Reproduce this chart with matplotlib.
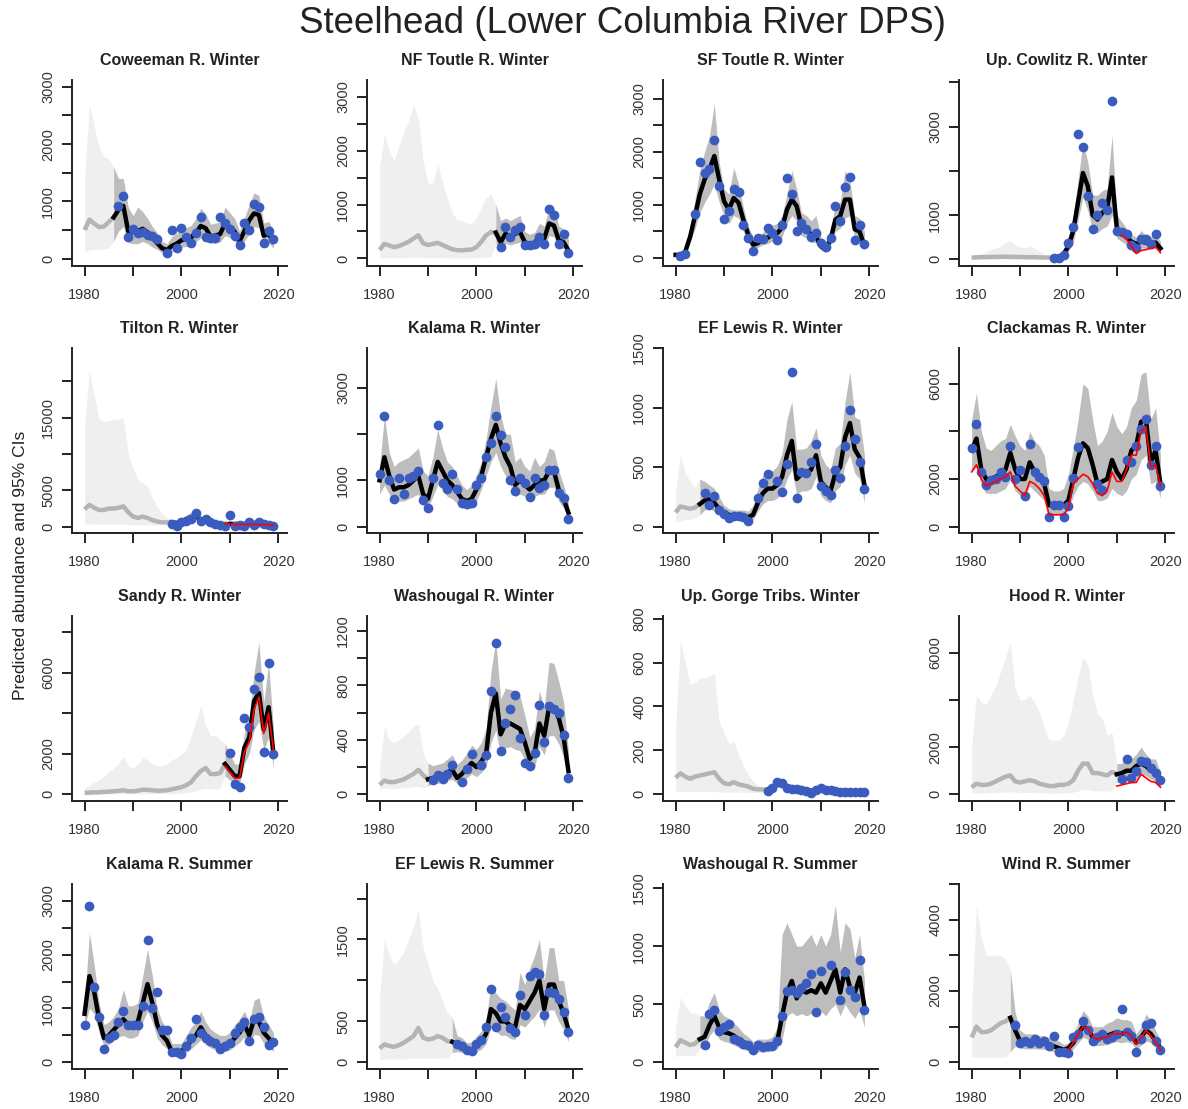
import numpy as np
import matplotlib
matplotlib.use("Agg")
import matplotlib.pyplot as plt

plt.rcParams['font.family'] = ['Liberation Sans', 'DejaVu Sans']

N = None
years = list(range(1980, 2020))

titles = ["Coweeman R. Winter", "NF Toutle R. Winter", "SF Toutle R. Winter", "Up. Cowlitz R. Winter",
          "Tilton R. Winter", "Kalama R. Winter", "EF Lewis R. Winter", "Clackamas R. Winter",
          "Sandy R. Winter", "Washougal R. Winter", "Up. Gorge Tribs. Winter", "Hood R. Winter",
          "Kalama R. Summer", "EF Lewis R. Summer", "Washougal R. Summer", "Wind R. Summer"]

# first year of the fitted (data) period for each population
start_year = [1986, 2004, 1980, 1997, 1998, 1980, 1985, 1980,
              2009, 1990, 1999, 2010, 1980, 1995, 1985, 1988]

# --- Coweeman R. Winter ---
cow_est = [500, 680, 610, 550, 560, 640, 720, 850, 920, 480,
           460, 480, 520, 460, 360, 270, 180, 150, 220, 260,
           320, 340, 370, 450, 570, 530, 390, 400, 430, 610,
           550, 470, 300, 480, 670, 790, 760, 400, 430, 300]
cow_lo = [120, 150, 160, 160, 170, 180, 300, 480, 560, 280,
          260, 260, 300, 260, 200, 160, 100, 80, 120, 150,
          200, 210, 240, 290, 360, 350, 270, 270, 290, 400,
          370, 310, 200, 300, 430, 560, 540, 260, 270, 180]
cow_hi = [1400, 2700, 2300, 1950, 1780, 1750, 1600, 1400, 1400, 900,
          750, 900, 820, 700, 560, 450, 300, 260, 380, 440,
          520, 540, 580, 700, 880, 780, 600, 620, 640, 900,
          800, 700, 480, 700, 950, 1150, 1100, 620, 650, 500]
cow_obs = [N, N, N, N, N, N, N, 920, 1100, 380,
           520, 450, 470, 420, 400, 340, N, 100, 500, 180,
           540, 380, 280, 450, 720, 370, 360, 360, 720, 620,
           520, 400, 230, 620, 500, 950, 900, 280, 480, 340]

# --- NF Toutle R. Winter ---
nft_est = [160, 270, 240, 210, 230, 270, 310, 370, 430, 280,
           250, 270, 290, 250, 210, 170, 155, 150, 160, 165,
           210, 310, 430, 490, 480, 300, 460, 400, 460, 490,
           300, 270, 290, 400, 370, 650, 610, 340, 300, 150]
nft_lo = [10, 15, 15, 15, 15, 15, 20, 20, 25, 15,
          15, 15, 15, 15, 12, 10, 10, 10, 10, 10,
          15, 20, 30, 40, 280, 170, 280, 250, 280, 300,
          180, 160, 170, 250, 220, 420, 400, 200, 180, 60]
nft_hi = [1700, 2300, 2000, 1800, 2100, 2350, 2550, 2850, 2600, 1800,
          1400, 1400, 1750, 1400, 1100, 850, 720, 700, 660, 650,
          760, 950, 1130, 1200, 1000, 700, 750, 700, 750, 800,
          500, 450, 480, 650, 600, 950, 950, 600, 550, 350]
nft_obs = [N] * 25 + [215, 585, 400, 520, 585,
                      246, 246, 260, 400, 277, 920, 800, 277, 460, 105]

# --- SF Toutle R. Winter ---
sft_est = [60, 60, 120, 400, 790, 1200, 1480, 1670, 1920, 1480,
           1070, 910, 1130, 1040, 720, 440, 250, 280, 350, 380,
           440, 470, 570, 910, 1100, 980, 600, 540, 440, 410,
           220, 160, 350, 720, 790, 1100, 1100, 540, 500, 220]
sft_lo = [40, 40, 80, 300, 550, 850, 1050, 1200, 1400, 1050,
          800, 650, 800, 750, 500, 300, 170, 200, 250, 270,
          320, 330, 400, 650, 800, 700, 420, 380, 300, 290,
          150, 100, 240, 500, 560, 750, 800, 380, 350, 150]
sft_hi = [80, 100, 200, 600, 1100, 1650, 2000, 2300, 2900, 1800,
          1300, 1200, 1700, 1400, 950, 600, 400, 420, 480, 550,
          620, 650, 800, 1200, 1650, 1300, 850, 800, 700, 800,
          400, 300, 550, 1000, 1050, 1650, 1450, 800, 750, 500]
sft_obs = [N, 30, 80, N, 820, 1800, 1600, 1670, 2220, 1350,
           740, 890, 1290, 1240, 630, 380, 130, 380, 360, 560,
           470, 330, 630, 1510, 1200, 500, 660, 540, 390, 480,
           280, 210, 380, 980, 690, 1340, 1520, 330, 620, 270]

# --- Up. Cowlitz R. Winter ---
ucw_est = [40, 45, 50, 50, 55, 55, 60, 60, 60, 55,
           55, 50, 50, 50, 45, 40, 40, 30, 50, 120,
           300, 650, 1300, 1950, 1650, 1000, 900, 1050, 1150, 1850,
           700, 600, 500, 400, 350, 400, 380, 350, 380, 250]
ucw_lo = [5, 5, 5, 5, 5, 5, 5, 5, 5, 5,
          5, 5, 5, 5, 5, 5, 5, 10, 25, 60,
          180, 380, 900, 1400, 1100, 650, 600, 700, 750, 1000,
          480, 400, 320, 260, 220, 260, 250, 230, 250, 150]
ucw_hi = [80, 100, 130, 170, 220, 260, 300, 380, 420, 330,
          280, 260, 300, 250, 180, 120, 80, 60, 80, 200,
          450, 1000, 1800, 2650, 2200, 1450, 1450, 1550, 1600, 2800,
          1000, 850, 700, 560, 500, 650, 550, 520, 560, 400]
ucw_obs = [N] * 17 + [20, 40, 100,
                      380, 730, 2830, 2540, 1420, 690, 1010, 1270, 1115, 3580,
                      630, 620, 580, 330, 250, 460, 460, 350, 580, N]
ucw_red = [N] * 31 + [550, 450, 300, 130, 200, 220, 250, 280, 150]

# --- Tilton R. Winter ---
til_est = [2400, 3000, 2600, 2300, 2300, 2500, 2500, 2600, 2800, 2000,
           1400, 1200, 1400, 1200, 900, 700, 600, 600, 600, 500,
           700, 1000, 1300, 1500, 900, 900, 700, 500, 350, 250,
           400, 350, 400, 350, 400, 500, 450, 350, 250, 150]
til_lo = [400, 400, 400, 350, 350, 350, 350, 350, 350, 300,
          250, 250, 250, 250, 250, 250, 250, 250, 300, 250,
          400, 600, 800, 900, 500, 500, 400, 300, 200, 130,
          230, 200, 230, 200, 230, 300, 260, 200, 140, 60]
til_hi = [14000, 21500, 18000, 14800, 14500, 14600, 14800, 14800, 14900, 10000,
          8000, 6500, 6000, 5500, 4000, 2800, 1800, 1200, 1000, 900,
          1100, 1600, 2000, 2300, 1400, 1400, 1100, 800, 600, 450,
          700, 600, 650, 600, 650, 800, 700, 600, 450, 300]
til_obs = [N] * 18 + [400, 100,
                      600, 800, 1000, 1900, 800, 1000, 600, 400, 200, 100,
                      1600, 100, 200, 100, 600, 300, 600, 400, 200, 100]
til_red = [N] * 29 + [400, 400, 300, 300, 300, 300, 350, 300, 300, 250, 200]

# --- Kalama R. Winter ---
kaw_est = [1000, 1500, 1100, 800, 850, 850, 900, 1000, 1100, 700,
           600, 1000, 1400, 1200, 1000, 900, 750, 600, 550, 600,
           800, 1100, 1500, 1900, 2200, 1800, 1500, 1300, 900, 1000,
           900, 800, 900, 1000, 1000, 1200, 1200, 800, 600, 300]
kaw_lo = [700, 900, 700, 550, 550, 550, 600, 650, 700, 450,
          400, 650, 900, 800, 650, 600, 500, 400, 380, 400,
          550, 800, 1100, 1400, 1600, 1300, 1100, 900, 650, 700,
          650, 550, 650, 700, 700, 850, 850, 550, 400, 150]
kaw_hi = [1300, 2400, 1600, 1300, 1400, 1450, 1500, 1600, 1700, 1200,
          1100, 1500, 2100, 1700, 1400, 1300, 1100, 900, 800, 900,
          1100, 1400, 1900, 2600, 3200, 2400, 2000, 2000, 1400, 1500,
          1300, 1200, 1500, 1300, 1400, 1700, 1650, 1200, 900, 500]
kaw_obs = [1130, 2400, 1000, 600, 1050, 700, 1050, 1100, 1210, 580,
           400, 1060, 2200, 940, 820, 1140, 820, 510, 480, 510,
           900, 1050, 1500, 1800, 2400, 1990, 1730, 1010, 760, 1050,
           950, 630, 1050, 830, 900, 1230, 1230, 730, 620, 170]

# --- EF Lewis R. Winter ---
efw_est = [120, 170, 160, 150, 160, 190, 220, 230, 200, 150,
           120, 100, 90, 90, 90, 80, 100, 200, 280, 320,
           320, 350, 420, 600, 720, 400, 440, 450, 480, 600,
           380, 330, 300, 450, 500, 750, 870, 650, 580, 350]
efw_lo = [40, 50, 60, 60, 70, 100, 140, 150, 130, 100,
          80, 65, 60, 60, 60, 50, 60, 130, 190, 220,
          220, 240, 280, 400, 480, 270, 300, 300, 320, 420,
          260, 220, 200, 300, 340, 520, 600, 450, 400, 200]
efw_hi = [300, 600, 450, 380, 330, 400, 380, 350, 320, 250,
          180, 150, 140, 140, 140, 130, 180, 320, 430, 470,
          470, 510, 620, 900, 1050, 650, 650, 660, 720, 830,
          600, 520, 480, 660, 700, 1050, 1300, 920, 900, 600]
efw_obs = [N, N, N, N, N, N, 280, 180, 260, 140,
           110, 70, 90, 90, 80, 50, N, 245, 370, 440,
           N, 380, 290, 530, 1300, 240, 460, 450, 540, 690,
           340, 300, 270, 480, 410, 680, 980, 740, 540, 320]

# --- Clackamas R. Winter ---
clk_est = [3200, 3700, 2400, 2000, 2000, 2100, 2200, 2400, 3100, 2400,
           2000, 2000, 2700, 2300, 2100, 1800, 900, 900, 900, 900,
           1100, 2000, 2900, 3500, 3300, 2600, 1800, 1900, 2000, 2800,
           2300, 2000, 2400, 3200, 3400, 4400, 4500, 2700, 3200, 1800]
clk_lo = [2300, 2500, 1700, 1400, 1400, 1400, 1500, 1600, 2000, 1500,
          1300, 1300, 1700, 1500, 1300, 1100, 500, 500, 500, 500,
          700, 1300, 1700, 1900, 1800, 1500, 1100, 1100, 1200, 1600,
          1400, 1300, 1500, 2000, 2200, 2800, 3000, 1800, 1900, 1200]
clk_hi = [4500, 5600, 4000, 3300, 3200, 3400, 3600, 3700, 4300, 3800,
          3400, 3200, 4000, 3600, 3400, 3000, 1600, 1500, 1500, 1600,
          2200, 3300, 4500, 6000, 5800, 4500, 3400, 3600, 4000, 4800,
          4200, 3900, 4200, 5000, 5300, 6400, 6500, 4500, 5000, 3000]
clk_obs = [3300, 4300, 2300, 1750, 1960, 2000, 2300, 2100, 3400, 2000,
           2380, 1300, 3470, 2300, 2100, 1900, 400, 900, 900, 400,
           880, 2050, 3340, N, N, N, 1790, 1550, N, N,
           N, N, 2800, 2700, 3400, 4100, 4500, 2600, 3400, 1700]
clk_red = [2300, 2600, 2000, 1700, 1800, 1900, 2000, 2100, 2300, 1700,
           1500, 1300, 1900, 1800, 1600, 1300, 500, 500, 500, 500,
           800, 1800, 2000, 2200, 2100, 1800, 1400, 1300, 1500, 2300,
           1900, 1900, 2400, 3000, 3000, 4000, 4200, 2500, 2600, 1700]

# --- Sandy R. Winter ---
san_est = [80, 80, 100, 100, 120, 130, 150, 170, 200, 150,
           150, 180, 230, 220, 200, 180, 180, 200, 250, 300,
           350, 450, 600, 900, 1150, 1300, 1000, 1000, 1050, 1500,
           1200, 900, 900, 2300, 2800, 4600, 5000, 3200, 4300, 2000]
san_lo = [10, 10, 10, 15, 15, 20, 20, 25, 30, 25,
          25, 30, 35, 35, 30, 30, 30, 35, 40, 50,
          60, 80, 120, 180, 250, 300, 250, 280, 300, 900,
          700, 500, 500, 1500, 2000, 3200, 3600, 2200, 2800, 1300]
san_hi = [300, 450, 600, 700, 900, 1100, 1300, 1500, 1900, 1400,
          1300, 1500, 1800, 1700, 1500, 1400, 1400, 1500, 1700, 1800,
          2000, 2200, 2900, 3600, 4400, 3400, 2900, 2900, 2700, 2500,
          2000, 1500, 1500, 3000, 3800, 6000, 7500, 4500, 6500, 3200]
san_obs = [N] * 30 + [2060, 510, 350, 3770, 3300, 5200, 5800, 2100, 6500, 2000]
san_red = [N] * 29 + [1400, 1100, 800, 800, 2100, 2600, 4200, 4800, 3000, 4000, 2200]

# --- Washougal R. Winter ---
wsw_est = [70, 100, 90, 90, 100, 110, 130, 150, 180, 140,
           110, 120, 130, 140, 160, 180, 120, 150, 190, 230,
           200, 240, 300, 600, 740, 440, 520, 520, 500, 480,
           380, 260, 300, 520, 430, 640, 640, 560, 420, 170]
wsw_lo = [40, 45, 45, 45, 45, 50, 50, 55, 60, 50,
          60, 80, 80, 90, 100, 110, 80, 90, 120, 150,
          130, 160, 200, 380, 470, 280, 340, 350, 330, 320,
          250, 170, 200, 350, 290, 430, 430, 370, 270, 90]
wsw_hi = [200, 500, 400, 380, 400, 430, 460, 500, 520, 300,
          230, 210, 220, 230, 260, 290, 220, 250, 300, 360,
          330, 380, 480, 900, 1130, 700, 780, 770, 760, 720,
          580, 420, 480, 760, 640, 970, 960, 830, 680, 320]
wsw_obs = [N] * 11 + [103, 140, 115, 152, 213, N, 91, 189, 294,
                      N, 213, 287, 760, 1113, 319, 525, 630, 728, 417,
                      230, 206, 304, 657, 385, 647, 630, 598, 434, 123]

# --- Up. Gorge Tribs. Winter ---
ugt_est = [75, 95, 80, 70, 80, 85, 90, 95, 100, 70,
           50, 45, 55, 45, 40, 35, 25, 22, 22, 20,
           30, 45, 45, 35, 30, 25, 25, 20, 15, 20,
           25, 20, 20, 18, 15, 15, 12, 12, 12, 10]
ugt_lo = [10, 12, 12, 12, 12, 12, 12, 12, 12, 10,
          10, 10, 10, 10, 10, 8, 8, 8, 8, 10,
          18, 30, 30, 22, 18, 15, 15, 10, 6, 10,
          15, 10, 10, 9, 7, 7, 5, 5, 5, 3]
ugt_hi = [300, 700, 600, 500, 510, 530, 530, 540, 550, 330,
          280, 230, 240, 180, 130, 90, 60, 40, 30, 35,
          45, 65, 65, 50, 45, 40, 40, 32, 27, 32,
          40, 32, 32, 30, 27, 27, 22, 22, 22, 20]
ugt_obs = [N] * 19 + [15,
                      30, 55, 50, 30, 25, 25, 20, 15, 5, 20,
                      30, 20, 20, 15, 10, 12, 8, 10, 12, 8]

# --- Hood R. Winter ---
hod_est = [300, 450, 400, 400, 450, 550, 650, 750, 800, 550,
           500, 550, 600, 550, 450, 400, 350, 350, 400, 400,
           450, 600, 1000, 1300, 1300, 900, 900, 850, 800, 950,
           850, 900, 1000, 1000, 1200, 1300, 1200, 1000, 900, 500]
hod_lo = [50, 60, 60, 60, 70, 80, 90, 100, 110, 80,
          70, 80, 80, 80, 70, 60, 50, 50, 60, 60,
          70, 90, 150, 200, 200, 150, 150, 140, 130, 150,
          500, 550, 650, 600, 700, 850, 800, 650, 550, 300]
hod_hi = [2000, 4200, 3900, 3800, 4200, 4600, 5200, 5800, 6400, 4500,
          4000, 4000, 4200, 3900, 3500, 2800, 2300, 2300, 2300, 2500,
          3000, 4000, 5000, 5800, 5500, 4200, 3400, 3200, 2500, 2600,
          1300, 1300, 1700, 1500, 1700, 2000, 1700, 1500, 1500, 900]
hod_obs = [N] * 31 + [650, 1500, 700, 1000, 1400, 1350, 1100, 900, 600]
hod_red = [N] * 30 + [350, 400, 450, 500, 500, 850, 700, 550, 500, 300]

# --- Kalama R. Summer ---
kas_est = [900, 1600, 1300, 800, 450, 500, 600, 700, 800, 700,
           700, 750, 1100, 1450, 1100, 700, 500, 400, 200, 200,
           200, 300, 400, 500, 650, 500, 400, 350, 300, 300,
           350, 450, 550, 700, 500, 800, 750, 550, 450, 350]
kas_lo = [650, 1000, 900, 550, 300, 330, 400, 470, 500, 450,
          450, 500, 750, 950, 750, 450, 330, 250, 120, 120,
          120, 180, 250, 330, 420, 330, 270, 230, 200, 200,
          230, 300, 370, 470, 330, 520, 500, 350, 280, 200]
kas_hi = [1100, 2400, 1800, 1100, 700, 750, 850, 1000, 1350, 1050,
          1050, 1100, 1600, 2100, 1600, 1000, 750, 650, 350, 350,
          350, 500, 650, 750, 950, 750, 620, 550, 500, 500,
          550, 700, 800, 950, 750, 1150, 1200, 850, 700, 550]
kas_obs = [700, 2900, 1400, 850, 250, 450, 500, 750, 950, 700,
           700, 700, 1050, 2270, 1000, 1300, 600, 600, 200, 200,
           150, 300, 450, 800, 550, 450, 400, 350, 250, 300,
           350, 550, 650, 750, 400, 800, 850, 650, 320, 370]

# --- EF Lewis R. Summer ---
efs_est = [170, 220, 200, 190, 210, 240, 280, 320, 420, 300,
           280, 290, 320, 300, 260, 250, 220, 190, 150, 150,
           200, 250, 350, 650, 600, 500, 500, 450, 430, 700,
           650, 750, 850, 1000, 650, 950, 950, 750, 600, 400]
efs_lo = [30, 40, 40, 40, 40, 40, 45, 50, 55, 50,
          50, 50, 55, 55, 55, 120, 130, 120, 100, 100,
          130, 160, 230, 420, 380, 330, 330, 290, 280, 460,
          430, 500, 560, 650, 430, 640, 640, 500, 400, 250]
efs_hi = [800, 1500, 1300, 1200, 1250, 1350, 1500, 1650, 1870, 1400,
          1200, 1000, 900, 750, 600, 550, 330, 300, 240, 250,
          320, 380, 530, 950, 850, 780, 750, 690, 640, 1100,
          950, 1150, 1300, 1500, 1000, 1400, 1400, 1000, 1000, 650]
efs_obs = [N] * 16 + [220, 200, 150, 140,
                      220, 270, 430, 900, 430, 670, 550, 420, 370, 820,
                      580, 1060, 1100, 1080, 580, 860, 850, 770, 620, 370]

# --- Washougal R. Summer ---
wss_est = [130, 190, 170, 150, 160, 200, 220, 320, 400, 300,
           260, 250, 230, 200, 170, 150, 120, 130, 130, 130,
           140, 180, 400, 600, 700, 550, 620, 600, 620, 600,
           680, 600, 700, 800, 600, 800, 650, 600, 730, 480]
wss_lo = [50, 60, 60, 60, 60, 120, 140, 230, 280, 200,
          180, 170, 150, 130, 110, 100, 80, 90, 90, 90,
          100, 120, 200, 400, 430, 400, 420, 400, 420, 400,
          440, 400, 460, 500, 400, 500, 430, 380, 450, 300]
wss_hi = [300, 560, 480, 430, 420, 400, 400, 520, 600, 450,
          400, 380, 340, 300, 250, 220, 180, 200, 200, 200,
          220, 300, 1100, 1200, 1100, 1000, 1000, 1050, 1100, 1000,
          1100, 1000, 1100, 1350, 950, 1200, 1150, 900, 1100, 700]
wss_obs = [N, N, N, N, N, N, 150, 420, 450, 270,
           300, 330, 200, 180, 160, 150, 110, 150, 130, 140,
           140, 180, 400, 610, 620, 600, 640, 680, 760, 430,
           790, N, 840, N, 540, 780, 620, 560, 880, 450]

# --- Wind R. Summer ---
wnd_est = [700, 1000, 850, 850, 900, 1000, 1100, 1150, 1250, 900,
           600, 550, 550, 550, 550, 550, 500, 450, 400, 350,
           400, 550, 800, 1000, 950, 700, 700, 700, 750, 800,
           850, 800, 850, 800, 550, 700, 900, 800, 600, 400]
wnd_lo = [150, 150, 150, 150, 150, 150, 150, 150, 300, 450,
          400, 380, 380, 380, 370, 370, 330, 300, 270, 230,
          260, 380, 550, 700, 650, 470, 470, 480, 500, 550,
          580, 550, 580, 540, 370, 480, 600, 550, 400, 250]
wnd_hi = [1500, 4400, 3500, 3000, 3000, 3000, 3000, 2900, 2600, 1400,
          900, 800, 800, 800, 750, 750, 700, 700, 600, 500,
          550, 800, 1100, 1450, 1300, 1000, 1000, 1000, 1100, 1150,
          1250, 1200, 1200, 1150, 800, 1000, 1350, 1200, 900, 600]
wnd_obs = [N] * 9 + [1050,
                     550, 600, 550, 650, 550, 600, 450, 750, 300, 300,
                     250, 700, 800, 1150, 900, 600, 700, 800, 650, 700,
                     800, 1500, 850, 750, 300, 650, 1050, 1100, 600, 350]
wnd_red = [N] * 20 + [350, 550, 800, 1000, 950, 700, 650, 700, 700, 800,
                      800, 800, 850, 750, 500, 700, 900, 750, 550, 350]

ests = [cow_est, nft_est, sft_est, ucw_est, til_est, kaw_est, efw_est, clk_est,
        san_est, wsw_est, ugt_est, hod_est, kas_est, efs_est, wss_est, wnd_est]
los = [cow_lo, nft_lo, sft_lo, ucw_lo, til_lo, kaw_lo, efw_lo, clk_lo,
       san_lo, wsw_lo, ugt_lo, hod_lo, kas_lo, efs_lo, wss_lo, wnd_lo]
his = [cow_hi, nft_hi, sft_hi, ucw_hi, til_hi, kaw_hi, efw_hi, clk_hi,
       san_hi, wsw_hi, ugt_hi, hod_hi, kas_hi, efs_hi, wss_hi, wnd_hi]
obss = [cow_obs, nft_obs, sft_obs, ucw_obs, til_obs, kaw_obs, efw_obs, clk_obs,
        san_obs, wsw_obs, ugt_obs, hod_obs, kas_obs, efs_obs, wss_obs, wnd_obs]
reds = [None, None, None, ucw_red, til_red, None, None, clk_red,
        san_red, None, None, hod_red, None, None, None, wnd_red]

# y axis setup per panel: (ylim low, ylim high, tick step, tick max, labelled ticks)
y_axes = [
    (-130, 3120, 500, 3000, [0, 1000, 2000, 3000]),
    (-140, 3310, 500, 3000, [0, 1000, 2000, 3000]),
    (-150, 3350, 500, 3000, [0, 1000, 2000, 3000]),
    (-150, 4050, 1000, 4000, [0, 1000, 3000]),
    (-870, 24600, 5000, 20000, [0, 5000, 15000]),
    (-140, 3865, 1000, 3000, [0, 1000, 3000]),
    (-53, 1500, 500, 1500, [0, 500, 1000, 1500]),
    (-266, 7500, 2000, 6000, [0, 2000, 6000]),
    (-330, 8800, 2000, 8000, [0, 2000, 6000]),
    (-49, 1309, 200, 1200, [0, 400, 800, 1200]),
    (-31, 812, 200, 800, [0, 200, 400, 600, 800]),
    (-283, 7555, 2000, 6000, [0, 2000, 6000]),
    (-124, 3310, 500, 3000, [0, 1000, 2000, 3000]),
    (-81, 2177, 500, 2000, [0, 500, 1500]),
    (-57, 1534, 500, 1500, [0, 500, 1000, 1500]),
    (-186, 4995, 1000, 5000, [0, 2000, 4000]),
]

W, H = 1188, 1109
col_left = [72, 367, 663, 959]
row_top = [80, 348, 616, 884]
row_bot = [266, 533, 801, 1069]
ax_w = 215

light_band = '#efefef'
dark_band = '#bdbdbd'
pre_line = '#b4b4b4'
obs_blue = '#3a5bbf'
text_col = '#333333'

fig = plt.figure(figsize=(W / 100, H / 100), dpi=100)
yrs = np.array(years)

for i in range(16):
    r, c = divmod(i, 4)
    ax = fig.add_axes([col_left[c] / W, 1 - row_bot[r] / H,
                       ax_w / W, (row_bot[r] - row_top[r]) / H])
    est = np.array(ests[i], dtype=float)
    lo = np.array(los[i], dtype=float)
    hi = np.array(his[i], dtype=float)
    obs = np.array(obss[i], dtype=float)
    s = start_year[i] - years[0]

    if s > 0:
        ax.fill_between(yrs[:s + 1], lo[:s + 1], hi[:s + 1], color=light_band, lw=0, zorder=1)
        ax.plot(yrs[:s + 1], est[:s + 1], color=pre_line, lw=3.2, zorder=3, solid_capstyle='butt')
    ax.fill_between(yrs[s:], lo[s:], hi[s:], color=dark_band, lw=0, zorder=2)
    ax.plot(yrs[s:], est[s:], color='black', lw=3.2, zorder=4)
    ax.plot(yrs, obs, 'o', color=obs_blue, ms=7, mec='none', zorder=5)
    if reds[i] is not None:
        ax.plot(yrs, np.array(reds[i], dtype=float), color='red', lw=1.2, zorder=6)

    ylo, yhi, step, tmax, labelled = y_axes[i]
    ax.set_xlim(1977.4, 2021.8)
    ax.set_ylim(ylo, yhi)
    xt = [1980, 1990, 2000, 2010, 2020]
    ax.set_xticks(xt)
    ax.set_xticklabels([str(t) if t in (1980, 2000, 2020) else '' for t in xt])
    yt = list(range(0, tmax + 1, step))
    ax.set_yticks(yt)
    ax.set_yticklabels([str(t) if t in labelled else '' for t in yt], rotation=90, va='center')

    for side in ('top', 'right'):
        ax.spines[side].set_visible(False)
    for side in ('left', 'bottom'):
        ax.spines[side].set_linewidth(1.4)
        ax.spines[side].set_color('#222222')
    ax.tick_params(direction='out', length=7, width=1.4, color='#222222',
                   labelsize=10.5, labelcolor=text_col)
    ax.tick_params(axis='x', pad=9)
    ax.tick_params(axis='y', pad=5)
    ax.set_title(titles[i], fontsize=11.5, fontweight='bold', color='#222222', pad=11)

fig.text(0.524, 0.979, 'Steelhead (Lower Columbia River DPS)', ha='center', va='center',
         fontsize=26.5, color='#222222')
fig.text(0.017, 0.49, 'Predicted abundance and 95% CIs', ha='center', va='center',
         rotation=90, fontsize=12.5, color='#222222')

fig.savefig('out.png', dpi=100)
